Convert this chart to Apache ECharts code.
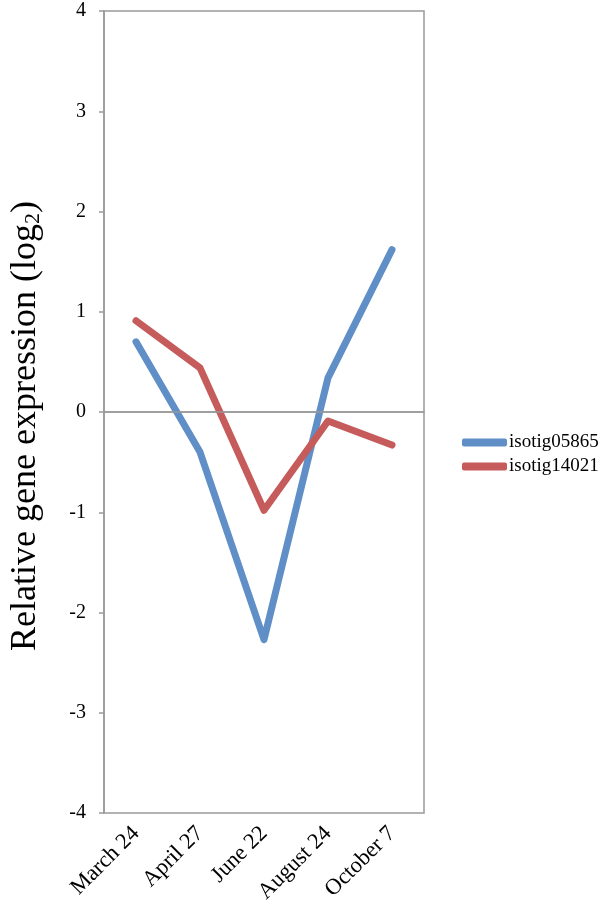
<!DOCTYPE html>
<html><head><meta charset="utf-8">
<script src="https://cdn.jsdelivr.net/npm/echarts@6/dist/echarts.min.js"></script>
<style>html,body{margin:0;padding:0;background:#fff}#c{width:600px;height:919px}</style>
</head><body><div id="c"></div>
<script>
const categories = ['March 24','April 27','June 22','August 24','October 7'];
const isotig05865 = [0.70, -0.40, -2.27, 0.34, 1.62];
const isotig14021 = [0.91, 0.44, -0.98, -0.09, -0.33];
const yTicks = [-4,-3,-2,-1,0,1,2,3,4];

const font = 'Liberation Serif';
const chart = echarts.init(document.getElementById('c'));
chart.setOption({
  animation:false,
  backgroundColor:'#fff',
  grid:{left:102,right:176,top:11,bottom:106,show:true,borderColor:'#999',borderWidth:1.5},
  legend:{orient:'vertical',left:457,top:428,itemWidth:45,itemHeight:8,itemGap:5,icon:'roundRect',
    textStyle:{fontFamily:font,fontSize:19,color:'#000',padding:[0,0,0,-3]},
    data:['isotig05865','isotig14021']},
  xAxis:{type:'category',data:categories,boundaryGap:true,
    axisLine:{lineStyle:{color:'#999',width:1.5}},
    axisTick:{alignWithLabel:true,length:6,lineStyle:{color:'#999',width:1.5}},
    axisLabel:{rotate:45,fontFamily:font,fontSize:22.5,color:'#000',margin:17,interval:0}},
  yAxis:{type:'value',min:yTicks[0],max:yTicks[yTicks.length-1],interval:1,
    name:'{a|Relative gene expression (log}{s|2}{a|)}',nameLocation:'middle',nameGap:60,nameRotate:90,
    nameTextStyle:{padding:[0,28,0,0],rich:{a:{fontFamily:font,fontSize:36,color:'#000'},s:{fontFamily:font,fontSize:22,color:'#000',verticalAlign:'bottom',padding:[14,0,0,0]}}},
    axisLine:{show:true,lineStyle:{color:'#999',width:1.5}},
    axisTick:{show:true,length:5,lineStyle:{color:'#999',width:1.5}},
    splitLine:{show:false},
    axisLabel:{fontFamily:font,fontSize:20,color:'#000',margin:18}},
  series:[
    {name:'isotig05865',type:'line',data:isotig05865,symbol:'none',color:'#5F8FC6',
      lineStyle:{width:7,color:'#5F8FC6',cap:'round',join:'round'},
      markLine:{silent:true,symbol:'none',label:{show:false},lineStyle:{color:'#999',width:1.5,type:'solid'},data:[{yAxis:0}]}},
    {name:'isotig14021',type:'line',data:isotig14021,symbol:'none',color:'#C55B5A',
      lineStyle:{width:7,color:'#C55B5A',cap:'round',join:'round'}}
  ]
});
</script></body></html>
